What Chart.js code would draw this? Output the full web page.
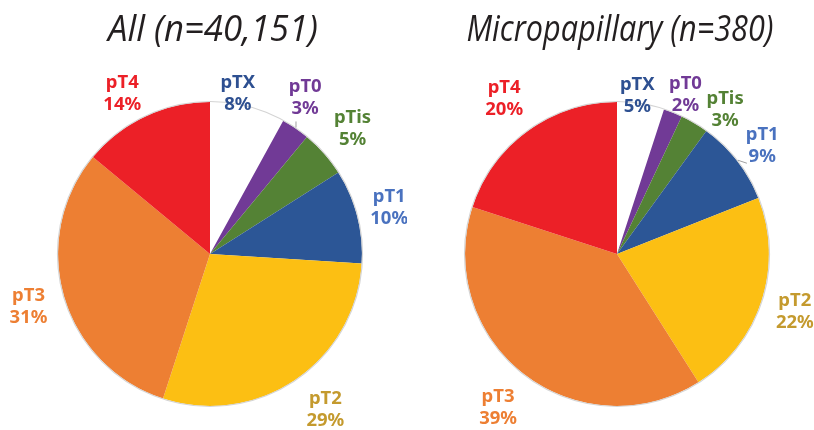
<!DOCTYPE html>
<html>
<head>
<meta charset="utf-8">
<script src="https://cdn.jsdelivr.net/npm/chart.js@4/dist/chart.umd.min.js"></script>
<style>
  html, body { margin: 0; padding: 0; background: #fff; }
  .wrap { display: flex; width: 814px; height: 430px; }
  .cell { position: relative; width: 407px; height: 430px; }
</style>
</head>
<body>
<div class="wrap">
  <div class="cell"><canvas id="pieAll"></canvas></div>
  <div class="cell"><canvas id="pieMicro"></canvas></div>
</div>
<script>
const categories = ["pTX", "pT0", "pTis", "pT1", "pT2", "pT3", "pT4"];
const allValues = [8, 3, 5, 10, 29, 31, 14];
const microValues = [5, 2, 3, 9, 22, 39, 20];
const titles = ["All (n=40,151)", "Micropapillary (n=380)"];

const sliceColors = ["#ffffff", "#713a96", "#548235", "#2c5696", "#fcbf13", "#ed7f33", "#ec2027"];
const labelColors = ["#2e5091", "#713a96", "#548235", "#4a72bf", "#c49a2e", "#ed7f33", "#ec2027"];

// outside labels placed at each arc's middle angle
const outsideLabels = {
  id: "outsideLabels",
  afterDatasetsDraw(chart, args, opts) {
    const ctx = chart.ctx;
    const meta = chart.getDatasetMeta(0);
    const values = chart.data.datasets[0].data;
    ctx.save();
    // faint ring round the pie
    const a0 = meta.data[0];
    ctx.beginPath();
    ctx.arc(a0.x, a0.y, a0.outerRadius + 0.5, 0, Math.PI * 2);
    ctx.strokeStyle = "#d4d4d4";
    ctx.lineWidth = 1.2;
    ctx.stroke();

    // short grey leader ticks
    (opts.leaders || []).forEach(([i, dx, dy]) => {
      const arc = meta.data[i];
      const mid = (arc.startAngle + arc.endAngle) / 2;
      const x = arc.x + Math.cos(mid) * (arc.outerRadius + 1);
      const y = arc.y + Math.sin(mid) * (arc.outerRadius + 1);
      ctx.beginPath();
      ctx.moveTo(x, y);
      ctx.lineTo(x + dx, y + dy);
      ctx.strokeStyle = "#a0a0a0";
      ctx.lineWidth = 1;
      ctx.stroke();
    });

    ctx.font = "bold 18.5px 'Noto Sans', 'Open Sans', sans-serif";
    ctx.textAlign = "center";
    ctx.textBaseline = "middle";
    meta.data.forEach((arc, i) => {
      const mid = (arc.startAngle + arc.endAngle) / 2 + (opts.angleShift[i] || 0);
      const r = arc.outerRadius + opts.gap[i];
      const x = arc.x + Math.cos(mid) * r;
      const y = arc.y + Math.sin(mid) * r;
      ctx.fillStyle = labelColors[i];
      ctx.fillText(chart.data.labels[i], x, y - 11);
      ctx.fillText(values[i] + "%", x, y + 11);
    });
    ctx.restore();
  }
};

const pieTitle = {
  id: "pieTitle",
  afterDraw(chart, args, opts) {
    const ctx = chart.ctx;
    ctx.save();
    ctx.font = "italic 36px 'Open Sans', 'Noto Sans', sans-serif";
    ctx.fillStyle = "#231f20";
    ctx.textAlign = "center";
    ctx.textBaseline = "alphabetic";
    const w = ctx.measureText(opts.text).width;
    const sx = opts.width / w;
    ctx.translate(opts.x, 41);
    ctx.scale(sx, 1);
    ctx.fillText(opts.text, 0, 0);
    ctx.restore();
  }
};

function makePie(id, values, title, titleWidth, gap, angleShift, leaders) {
  new Chart(document.getElementById(id), {
    type: "pie",
    data: {
      labels: categories,
      datasets: [{
        data: values,
        backgroundColor: sliceColors,
        borderWidth: 0
      }]
    },
    options: {
      responsive: false,
      animation: false,
      layout: { padding: { left: 58, right: 45, top: 102, bottom: 24 } },
      plugins: {
        legend: { display: false },
        tooltip: { enabled: false },
        title: { display: false },
        outsideLabels: { gap: gap, angleShift: angleShift, leaders: leaders },
        pieTitle: { text: title, x: 213, width: titleWidth }
      }
    },
    plugins: [outsideLabels, pieTitle]
  });
}

document.getElementById("pieAll").width = 407;
document.getElementById("pieAll").height = 430;
document.getElementById("pieMicro").width = 407;
document.getElementById("pieMicro").height = 430;

makePie("pieAll", allValues, titles[0], 210,
  [11, 31, 38, 33, 42, 37, 31],
  [-0.08, -0.05, 0, 0, -0.04, 0, -0.06],
  [[1, 0, -6]]);
makePie("pieMicro", microValues, titles[1], 307,
  [8, 21, 28, 29, 35, 42, 40],
  [-0.03, 0.03, 0.11, 0.02, 0, 0, 0],
  [[3, 9, 3]]);
</script>
</body>
</html>
